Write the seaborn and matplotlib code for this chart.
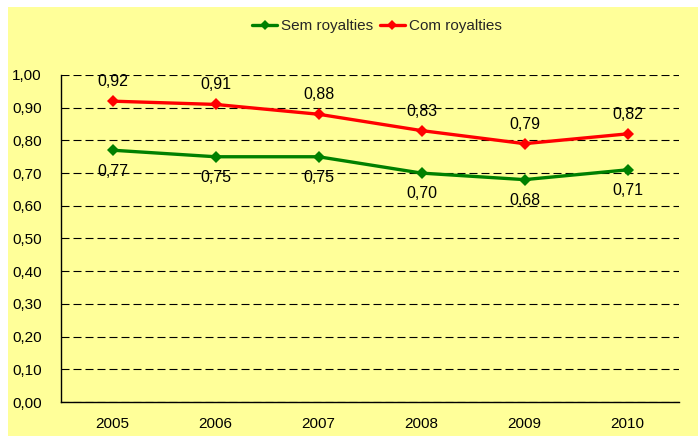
import matplotlib
matplotlib.use("Agg")
import matplotlib.pyplot as plt
from matplotlib.patches import Rectangle
from matplotlib.lines import Line2D
from matplotlib.ticker import FixedLocator, FuncFormatter
import seaborn as sns
import pandas as pd

years = ["2005", "2006", "2007", "2008", "2009", "2010"]
sem_royalties = [0.77, 0.75, 0.75, 0.70, 0.68, 0.71]
com_royalties = [0.92, 0.91, 0.88, 0.83, 0.79, 0.82]
series_names = ["Sem royalties", "Com royalties"]
series_colors = ["#008000", "#FF0000"]

sns.set_theme(style="white")
plt.rcParams["font.family"] = ["Liberation Sans", "DejaVu Sans"]

BG = "#FFFF99"

df = pd.DataFrame({
    "x": list(range(len(years))) * 2,
    "value": sem_royalties + com_royalties,
    "serie": [series_names[0]] * len(years) + [series_names[1]] * len(years),
})

fig = plt.figure(figsize=(6.98, 4.36), dpi=100)
fig.patch.set_facecolor("white")
fig.patches.append(Rectangle((8 / 698, 0), 1, 1 - 7 / 436, transform=fig.transFigure,
                             facecolor=BG, edgecolor="none", zorder=-10))

ax = fig.add_axes([61 / 698, 34 / 436, 618 / 698, 327 / 436])
ax.set_facecolor(BG)

sns.lineplot(data=df, x="x", y="value", hue="serie", palette=series_colors,
             hue_order=series_names, marker="D", markersize=6, markeredgewidth=0,
             linewidth=2.4, ax=ax, legend=False, zorder=3)

ax.set_xlim(-0.5, len(years) - 0.5)
ax.set_ylim(0, 1.0)
ax.set_xlabel("")
ax.set_ylabel("")

ax.xaxis.set_major_locator(FixedLocator(range(len(years))))
ax.set_xticklabels(years, fontsize=11)
ax.xaxis.set_minor_locator(FixedLocator([i - 0.5 for i in range(len(years) + 1)]))
ax.tick_params(axis="x", which="major", length=0, pad=11)
ax.tick_params(axis="x", which="minor", length=4, width=1, color="black", direction="out")

yt = [i / 10 for i in range(11)]
ax.yaxis.set_major_locator(FixedLocator(yt))
ax.yaxis.set_major_formatter(FuncFormatter(lambda v, p: f"{v:.2f}".replace(".", ",")))
ax.tick_params(axis="y", length=6, width=1, color="black", direction="out", pad=8, labelsize=11)
ax.tick_params(colors="black", which="both")
for lab in ax.get_xticklabels() + ax.get_yticklabels():
    lab.set_color("black")

ax.grid(axis="y", color="black", linestyle=(0, (7.2, 3.6)), linewidth=0.8, zorder=1)
ax.grid(axis="x", visible=False)
ax.set_axisbelow(True)

for s in ["top", "right"]:
    ax.spines[s].set_visible(False)
for s in ["left", "bottom"]:
    ax.spines[s].set_color("black")
    ax.spines[s].set_linewidth(1)

for i, v in enumerate(com_royalties):
    ax.annotate(f"{v:.2f}".replace(".", ","), (i, v), xytext=(0, 14), textcoords="offset points",
                ha="center", va="center", fontsize=11.5, color="black", zorder=5)
for i, v in enumerate(sem_royalties):
    ax.annotate(f"{v:.2f}".replace(".", ","), (i, v), xytext=(0, -15), textcoords="offset points",
                ha="center", va="center", fontsize=11.5, color="black", zorder=5)

handles = [Line2D([0], [0], color=c, linewidth=2.4, marker="D", markersize=5, markeredgewidth=0)
           for c in series_colors]
fig.legend(handles, series_names, loc="center", bbox_to_anchor=(377 / 698, 1 - 26 / 436), ncol=2,
           frameon=False, fontsize=11, handlelength=1.64, handletextpad=0.26, columnspacing=0.4)

fig.savefig("out.png", dpi=100, facecolor=fig.get_facecolor())
